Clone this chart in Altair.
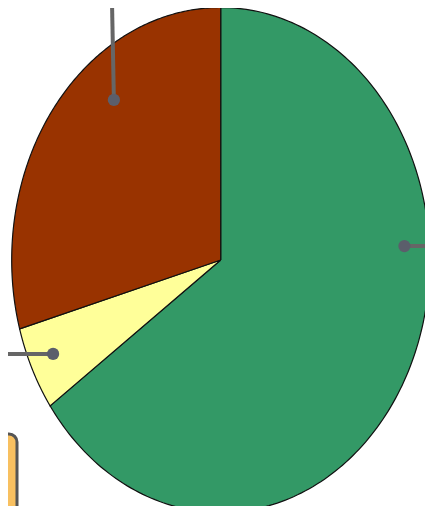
import altair as alt
import pandas as pd

# ---- data ----
categories = ["Green", "Yellow", "Brown"]
values = [65.2, 5.4, 29.4]
colors = ["#339966", "#FFFF99", "#993300"]

# leader lines (dot end and far end, in unit-ellipse coordinates), one per slice
lead_cat = ["Green", "Yellow", "Brown"]
lead_x = [0.879, -0.802, -0.511]
lead_y = [0.055, -0.372, 0.634]
lead_x2 = [1.12, -1.12, -0.522]
lead_y2 = [0.055, -0.372, 1.10]

# ---- layout (page pixels) ----
W, H = 417, 498
CX, CY, RX, RY = 220.7, 260.0, 209.0, 252.5
x_dom = [(8 - CX) / RX, (8 + W - CX) / RX]
y_dom = [(CY - 8 - H) / RY, (CY - 8) / RY]

xs = alt.Scale(domain=x_dom, nice=False, zero=False)
ys = alt.Scale(domain=y_dom, nice=False, zero=False)

N = 200
pie_df = pd.DataFrame({"category": categories, "value": values, "idx": list(range(len(values)))})

pie = (
    alt.Chart(pie_df)
    .transform_joinaggregate(total="sum(value)")
    .transform_window(cum="sum(value)", sort=[{"field": "idx"}], frame=[None, 0])
    .transform_calculate(
        a0="2*PI*(datum.cum - datum.value)/datum.total",
        a1="2*PI*datum.cum/datum.total",
        steps=f"sequence(-1, {N + 2})",
    )
    .transform_flatten(["steps"], as_=["k"])
    .transform_calculate(
        t=f"datum.a0 + (datum.a1 - datum.a0) * clamp(datum.k, 0, {N}) / {N}",
    )
    .transform_calculate(
        ux=f"(datum.k < 0 || datum.k > {N}) ? 0 : sin(datum.t)",
        uy=f"(datum.k < 0 || datum.k > {N}) ? 0 : cos(datum.t)",
    )
    .mark_line(stroke="#111111", strokeWidth=1.2, strokeJoin="miter")
    .encode(
        x=alt.X("ux:Q", scale=xs, axis=None),
        y=alt.Y("uy:Q", scale=ys, axis=None),
        order=alt.Order("k:Q"),
        fill=alt.Fill("category:N", scale=alt.Scale(domain=categories, range=colors), legend=None),
    )
)

lead_df = pd.DataFrame({"category": lead_cat, "x": lead_x, "y": lead_y, "x2": lead_x2, "y2": lead_y2})

rules = alt.Chart(lead_df).mark_rule(color="#666666", strokeWidth=4, strokeCap="butt").encode(
    x=alt.X("x:Q", scale=xs, axis=None),
    y=alt.Y("y:Q", scale=ys, axis=None),
    x2="x2:Q",
    y2="y2:Q",
)
dots = alt.Chart(lead_df).mark_circle(color="#5b5e6b", opacity=1, size=150).encode(
    x=alt.X("x:Q", scale=xs, axis=None),
    y=alt.Y("y:Q", scale=ys, axis=None),
)

box = alt.Chart(pd.DataFrame({"a": [0]})).mark_rect(
    fill="#F8C060", stroke="#555555", strokeWidth=3, cornerRadius=8
).encode(
    x=alt.value(-30), x2=alt.value(9), y=alt.value(426), y2=alt.value(540)
)

chart = (
    alt.layer(pie, rules, dots, box)
    .properties(width=W, height=H, padding=0, background="white",
                autosize=alt.AutoSizeParams(type="none"))
    .configure_view(strokeWidth=0)
)

chart.save("out.html", embed_options={"renderer": "svg", "actions": False})
